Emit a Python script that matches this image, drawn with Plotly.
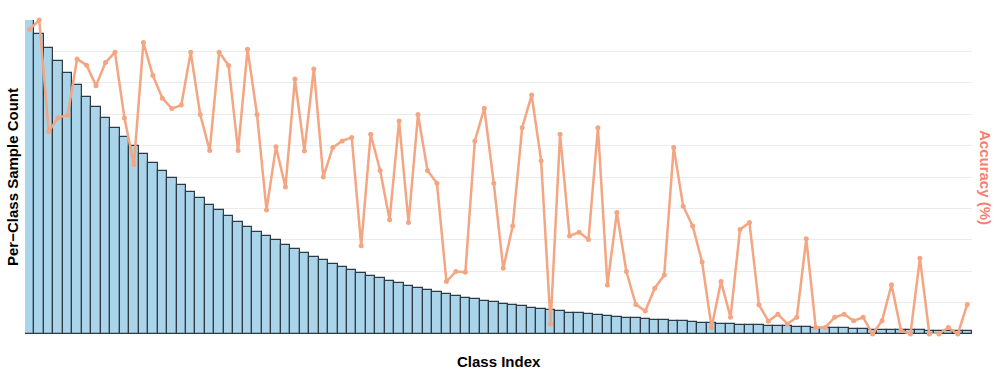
import plotly.graph_objects as go

class_index = list(range(100))

sample_count = [500, 477, 455, 434, 415, 396, 378, 361, 344, 328,
                314, 300, 286, 273, 260, 248, 237, 226, 216, 206,
                197, 188, 179, 171, 163, 156, 149, 142, 135, 129,
                123, 118, 112, 107, 102, 97, 93, 89, 85, 81,
                77, 74, 70, 67, 64, 61, 58, 55, 53, 51,
                48, 46, 44, 42, 40, 38, 36, 34, 33, 32,
                30, 28, 27, 26, 25, 24, 23, 22, 21, 20,
                19, 18, 17, 16, 16, 15, 15, 14, 13, 12,
                12, 11, 11, 10, 10, 9, 9, 8, 8, 7,
                7, 7, 6, 6, 6, 5, 5, 5, 5, 4]

accuracy = [97.0, 100.0, 64.5, 68.9, 69.7, 87.6, 85.6, 79.1, 86.5, 89.7,
            68.8, 54.0, 92.8, 82.3, 75.1, 71.8, 72.9, 89.7, 69.9, 58.4,
            89.7, 85.5, 58.4, 90.7, 69.9, 39.5, 59.6, 46.8, 81.2, 58.3,
            84.4, 50.0, 59.4, 61.5, 62.6, 28.1, 63.6, 52.1, 36.4, 67.8,
            35.5, 69.9, 52.1, 48.0, 16.7, 19.9, 19.7, 61.5, 71.9, 48.0,
            20.9, 34.4, 65.7, 76.1, 55.2, 3.2, 63.6, 31.2, 32.4, 30.1,
            65.7, 15.6, 38.7, 19.9, 9.4, 7.3, 14.6, 18.8, 59.4, 40.7,
            34.4, 22.9, 2.1, 16.7, 5.3, 33.3, 35.5, 9.3, 4.1, 6.3,
            3.2, 5.3, 30.3, 2.1, 2.1, 5.3, 6.3, 4.2, 5.3, 0.0,
            4.2, 15.7, 1.1, 0.0, 24.1, 0.0, 0.0, 2.1, 0.0, 9.4]

fig = go.Figure()

fig.add_trace(go.Bar(
    x=class_index, y=sample_count,
    marker=dict(color="#A9D4EA", line=dict(color="#2E3B44", width=1.2)),
    name="Sample Count", showlegend=False,
))

fig.add_trace(go.Scatter(
    x=class_index, y=accuracy, yaxis="y2",
    mode="lines+markers",
    line=dict(color="#F4A582", width=2.5),
    marker=dict(color="#F4A582", size=5),
    cliponaxis=False,
    name="Accuracy", showlegend=False,
))

title_font = dict(family="Arial, Liberation Sans, sans-serif", size=15, color="#000000")

fig.update_layout(
    width=997, height=374,
    margin=dict(l=25, r=25, t=20, b=40),
    paper_bgcolor="white", plot_bgcolor="white",
    bargap=0.0,
    xaxis=dict(range=[-0.5, 99.5], showticklabels=False, ticks="",
               showgrid=False, zeroline=False, showline=False),
    yaxis=dict(range=[0, 500], dtick=50, showticklabels=False, ticks="",
               showgrid=True, gridcolor="#EBEBEB", gridwidth=1,
               zeroline=False, showline=False),
    yaxis2=dict(range=[0, 100], overlaying="y", side="right",
                showticklabels=False, ticks="", showgrid=False,
                zeroline=False, showline=False),
    annotations=[
        dict(text="<b>Per\u2212Class Sample Count</b>", xref="paper", yref="paper",
             x=-13 / 947, y=0.5, xanchor="center", yanchor="middle",
             textangle=-90, showarrow=False, font=title_font),
        dict(text="<b>Class Index</b>", xref="paper", yref="paper",
             x=0.5, y=-27 / 314, xanchor="center", yanchor="middle",
             showarrow=False, font=title_font),
        dict(text="<b>Accuracy (%)</b>", xref="paper", yref="paper",
             x=1 + 14 / 947, y=0.5, xanchor="center", yanchor="middle",
             textangle=90, showarrow=False,
             font=dict(family="Arial, Liberation Sans, sans-serif", size=15, color="#F8806E")),
    ],
)

# remove the page's default 8px body margin so the figure fills the window exactly
fig.write_html("out.html", config={"displayModeBar": False},
               post_script="document.body.style.margin='0';")
